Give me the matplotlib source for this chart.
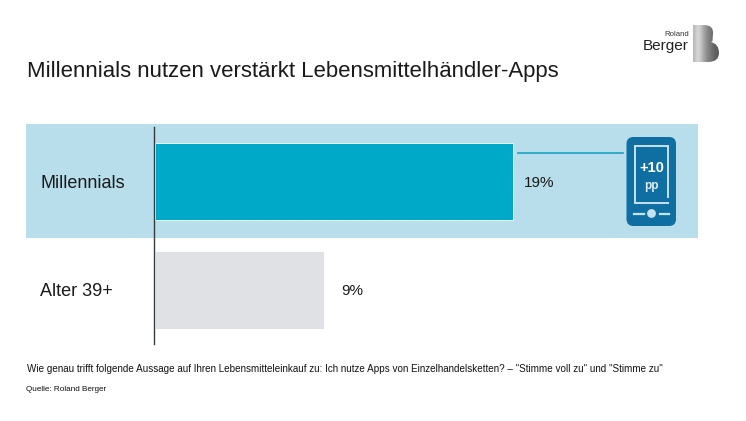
# -*- coding: utf-8 -*-
import numpy as np
import matplotlib
matplotlib.use('Agg')
import matplotlib.pyplot as plt
from matplotlib.patches import Rectangle, FancyBboxPatch, Circle, PathPatch
from matplotlib.path import Path

plt.rcParams['font.family'] = ['Liberation Sans', 'DejaVu Sans']

categories = ['Millennials', 'Alter 39+']
values = [19, 9]
value_labels = ['19%', '9%']
bar_colors = ['#00a9c8', '#dfe1e5']

title = 'Millennials nutzen verstärkt Lebensmittelhändler-Apps'
question = ('Wie genau trifft folgende Aussage auf Ihren Lebensmitteleinkauf zu: Ich nutze Apps von '
            'Einzelhandelsketten? – "Stimme voll zu" und "Stimme zu"')
source = 'Quelle: Roland Berger'

W, H = 746, 421
fig = plt.figure(figsize=(W / 100, H / 100), dpi=100, facecolor='white')

# overlay in pixel coords for everything that isn't data
bg = fig.add_axes([0, 0, 1, 1], zorder=0)
bg.set_xlim(0, W)
bg.set_ylim(H, 0)
bg.axis('off')
bg.add_patch(Rectangle((26, 124), 672, 114, fc='#b7deea', ec='none'))

# bars: axes covers y 127-344 px, x from the axis line to the band end
ax = fig.add_axes([154.5 / W, 1 - 344 / H, (698 - 154.5) / W, (344 - 127) / H], zorder=1)
ax.patch.set_alpha(0)
y_pos = [0, 1]
ax.barh(y_pos, values, height=0.714, color=bar_colors, edgecolor='white', linewidth=0.6)
ax.set_xlim(0, (698 - 154.5) / (358.5 / 19))
ax.set_ylim(1.498, -0.502)
for s in ['top', 'right', 'bottom']:
    ax.spines[s].set_visible(False)
ax.spines['left'].set_color('#333a40')
ax.spines['left'].set_linewidth(1.0)
ax.spines['left'].set_position(('outward', 0.7))
ax.set_xticks([])
ax.set_yticks(y_pos)
ax.set_yticklabels(categories, fontsize=13, color='#1a1a1a', va='center_baseline')
ax.tick_params(axis='y', length=0, pad=0)
for lab in ax.get_yticklabels():
    lab.set_ha('left')
    lab.set_x(-(154.5 - 41) / (698 - 154.5))

# the 9% sits further from its bar than the 19%
label_pads = [8, 12]
for i, v in enumerate(values):
    ax.annotate(value_labels[i], (v, y_pos[i]), xytext=(label_pads[i], 0), textcoords='offset points',
                fontsize=11, color='#1a1a1a', va='center_baseline', ha='left')

top = fig.add_axes([0, 0, 1, 1], zorder=2)
top.set_xlim(0, W)
top.set_ylim(H, 0)
top.axis('off')
top.patch.set_alpha(0)

top.text(27, 71.5, title, fontsize=15.95, color='#1a1a1a', va='center', ha='left')
top.text(27, 369.5, question, fontsize=7.12, color='#111111', va='center', ha='left')
top.text(26.5, 389.5, source, fontsize=5.85, color='#111111', va='center', ha='left')

# connector and phone
top.plot([518, 623], [152.5, 152.5], color='#18a3c2', lw=1.2)
blue = '#0f6fa3'
light = '#c4e3ec'
top.add_patch(FancyBboxPatch((626.5, 137), 49.5, 89, boxstyle='round,pad=0,rounding_size=7',
                             fc=blue, ec='none'))
top.plot([668, 668, 634.5, 634.5, 668], [197, 146, 146, 203, 203], color=light, lw=1.4,
         solid_joinstyle='miter')
top.text(651.5, 168, '+10', fontsize=10.5, fontweight='bold', color='white', ha='center', va='center')
top.text(651.5, 186, 'pp', fontsize=8.5, fontweight='bold', color='#dceef4', ha='center', va='center')
top.plot([634, 643.5], [213.5, 213.5], color=light, lw=1.6)
top.plot([659.5, 669], [213.5, 213.5], color=light, lw=1.6)
top.add_patch(Circle((651.5, 213.5), 4.4, fc=light, ec='none'))

# logo
top.text(689, 35, 'Roland', fontsize=5.6, color='#333333', ha='right', va='center')
top.text(689, 46, 'Berger', fontsize=11, color='#222222', ha='right', va='center')
verts = [(693, 25), (704, 25), (714, 25), (713, 34), (712.5, 41), (711, 42), (719, 44), (719, 53),
         (719, 62), (708, 62), (693, 62), (693, 25)]
codes = [Path.MOVETO, Path.LINETO, Path.CURVE3, Path.CURVE3, Path.LINETO, Path.LINETO,
         Path.CURVE3, Path.CURVE3, Path.CURVE3, Path.CURVE3, Path.LINETO, Path.CLOSEPOLY]
grad = np.array([[0.72, 0.86, 0.8, 0.68, 0.58, 0.5, 0.45, 0.38, 0.36]])
im = top.imshow(grad, cmap='gray', vmin=0, vmax=1, extent=(693, 719, 62, 25),
                aspect='auto', interpolation='bicubic')
im.set_clip_path(PathPatch(Path(verts, codes), transform=top.transData))
top.set_xlim(0, W)
top.set_ylim(H, 0)

fig.savefig('out.png', dpi=100)
